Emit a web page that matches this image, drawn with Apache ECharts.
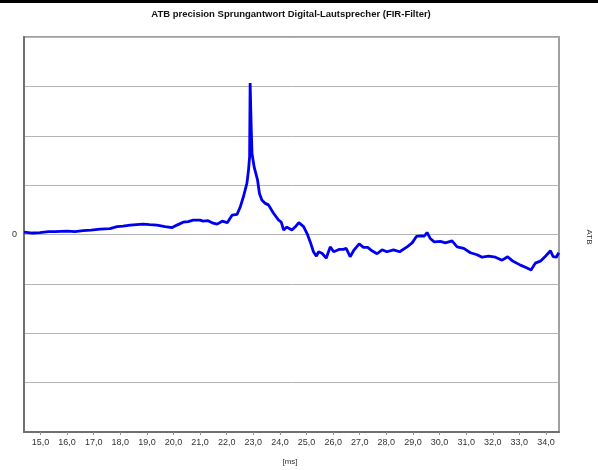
<!DOCTYPE html>
<html>
<head>
<meta charset="utf-8">
<script src="https://cdn.jsdelivr.net/npm/echarts@6/dist/echarts.min.js"></script>
<style>html,body{margin:0;padding:0;background:#fff;}#c{width:598px;height:470px;}</style>
</head>
<body>
<div id="c"></div>
<script>
var titleText = 'ATB precision Sprungantwort Digital-Lautsprecher (FIR-Filter)';
var xUnit = '[ms]';
var yName = 'ATB';
var xTicks = [15,16,17,18,19,20,21,22,23,24,25,26,27,28,29,30,31,32,33,34];
var yTicks = [-4,-3,-2,-1,0,1,2,3,4];
var timeMs = [14.38,14.7,14.98,15.3,15.55,16.0,16.3,16.6,16.9,17.24,17.61,17.88,18.1,18.37,18.6,18.86,19.1,19.38,19.68,19.95,20.13,20.36,20.55,20.74,21.0,21.11,21.3,21.49,21.64,21.83,22.02,22.2,22.39,22.51,22.63,22.76,22.82,22.86,22.88,22.92,22.95,23.03,23.16,23.23,23.32,23.45,23.57,23.76,23.95,24.05,24.14,24.26,24.45,24.57,24.71,24.89,25.02,25.14,25.26,25.37,25.45,25.58,25.74,25.89,26.02,26.24,26.39,26.49,26.64,26.79,26.98,27.14,27.3,27.46,27.65,27.84,28.02,28.27,28.5,28.78,28.97,29.13,29.28,29.43,29.53,29.65,29.8,30.03,30.22,30.47,30.66,30.91,31.16,31.41,31.6,31.85,32.1,32.35,32.56,32.73,33.04,33.29,33.44,33.6,33.79,33.98,34.17,34.27,34.39,34.48];
var atb = [0.05,0.03,0.04,0.06,0.06,0.07,0.06,0.08,0.09,0.11,0.12,0.16,0.17,0.19,0.20,0.21,0.20,0.19,0.16,0.14,0.19,0.25,0.26,0.29,0.29,0.27,0.28,0.23,0.21,0.27,0.24,0.39,0.41,0.56,0.77,1.04,1.31,1.57,3.07,2.18,1.64,1.37,1.10,0.83,0.70,0.63,0.60,0.43,0.29,0.25,0.09,0.15,0.09,0.15,0.24,0.16,0.02,-0.15,-0.35,-0.44,-0.35,-0.38,-0.48,-0.25,-0.35,-0.30,-0.30,-0.28,-0.45,-0.31,-0.19,-0.26,-0.26,-0.33,-0.39,-0.31,-0.35,-0.31,-0.35,-0.25,-0.17,-0.04,-0.03,-0.03,0.04,-0.08,-0.15,-0.14,-0.17,-0.13,-0.25,-0.28,-0.37,-0.41,-0.46,-0.44,-0.46,-0.52,-0.45,-0.53,-0.62,-0.68,-0.72,-0.58,-0.54,-0.44,-0.33,-0.45,-0.46,-0.37];
var xMin = 14.38, xMax = 34.49;

var data = timeMs.map(function (t, i) { return [t, atb[i]]; });
var chart = echarts.init(document.getElementById('c'), null, {renderer: 'canvas'});
var font = "'Liberation Sans', Arial, sans-serif";
chart.setOption({
  animation: false,
  backgroundColor: '#ffffff',
  grid: {left: 24, top: 37, right: 39, bottom: 38, show: true, borderColor: '#a0a0a0', borderWidth: 2, backgroundColor: 'transparent'},
  xAxis: {
    type: 'value', min: xMin, max: xMax,
    axisLine: {show: true, onZero: false, lineStyle: {color: '#707070', width: 2}},
    axisTick: {show: true, length: 3, customValues: xTicks, lineStyle: {color: '#909090'}},
    axisLabel: {customValues: xTicks, margin: 6, fontSize: 9, fontFamily: font, color: '#333',
      formatter: function (v) { return v.toFixed(1).replace('.', ','); }},
    splitLine: {show: false}
  },
  yAxis: {
    type: 'value', min: yTicks[0], max: yTicks[yTicks.length - 1], interval: 1,
    axisLine: {show: true, lineStyle: {color: '#707070', width: 2}},
    axisTick: {show: false},
    axisLabel: {margin: 7, fontSize: 9, fontFamily: font, color: '#333',
      formatter: function (v) { return v === 0 ? '0' : ''; }},
    splitLine: {show: true, lineStyle: {color: '#b4b4b4', width: 1}}
  },
  series: [{
    type: 'line', data: data, showSymbol: false, symbol: 'none',
    lineStyle: {color: '#0000f0', width: 2.8}, clip: true
  }],
  graphic: [
    {type: 'rect', left: 0, top: 0, shape: {width: 598, height: 3}, style: {fill: '#000'}},
    {type: 'text', x: 291, y: 14, style: {text: titleText, font: "bold 9.5px 'Liberation Sans', Arial, sans-serif", fill: '#111', align: 'center', verticalAlign: 'middle'}},
    {type: 'text', x: 290, y: 462, style: {text: xUnit, font: "8px 'Liberation Sans', Arial, sans-serif", fill: '#333', align: 'center', verticalAlign: 'middle'}},
    {type: 'text', x: 589, y: 237, rotation: -Math.PI / 2, style: {text: yName, font: "8px 'Liberation Sans', Arial, sans-serif", fill: '#333', align: 'center', verticalAlign: 'middle'}}
  ]
});
</script>
</body>
</html>
